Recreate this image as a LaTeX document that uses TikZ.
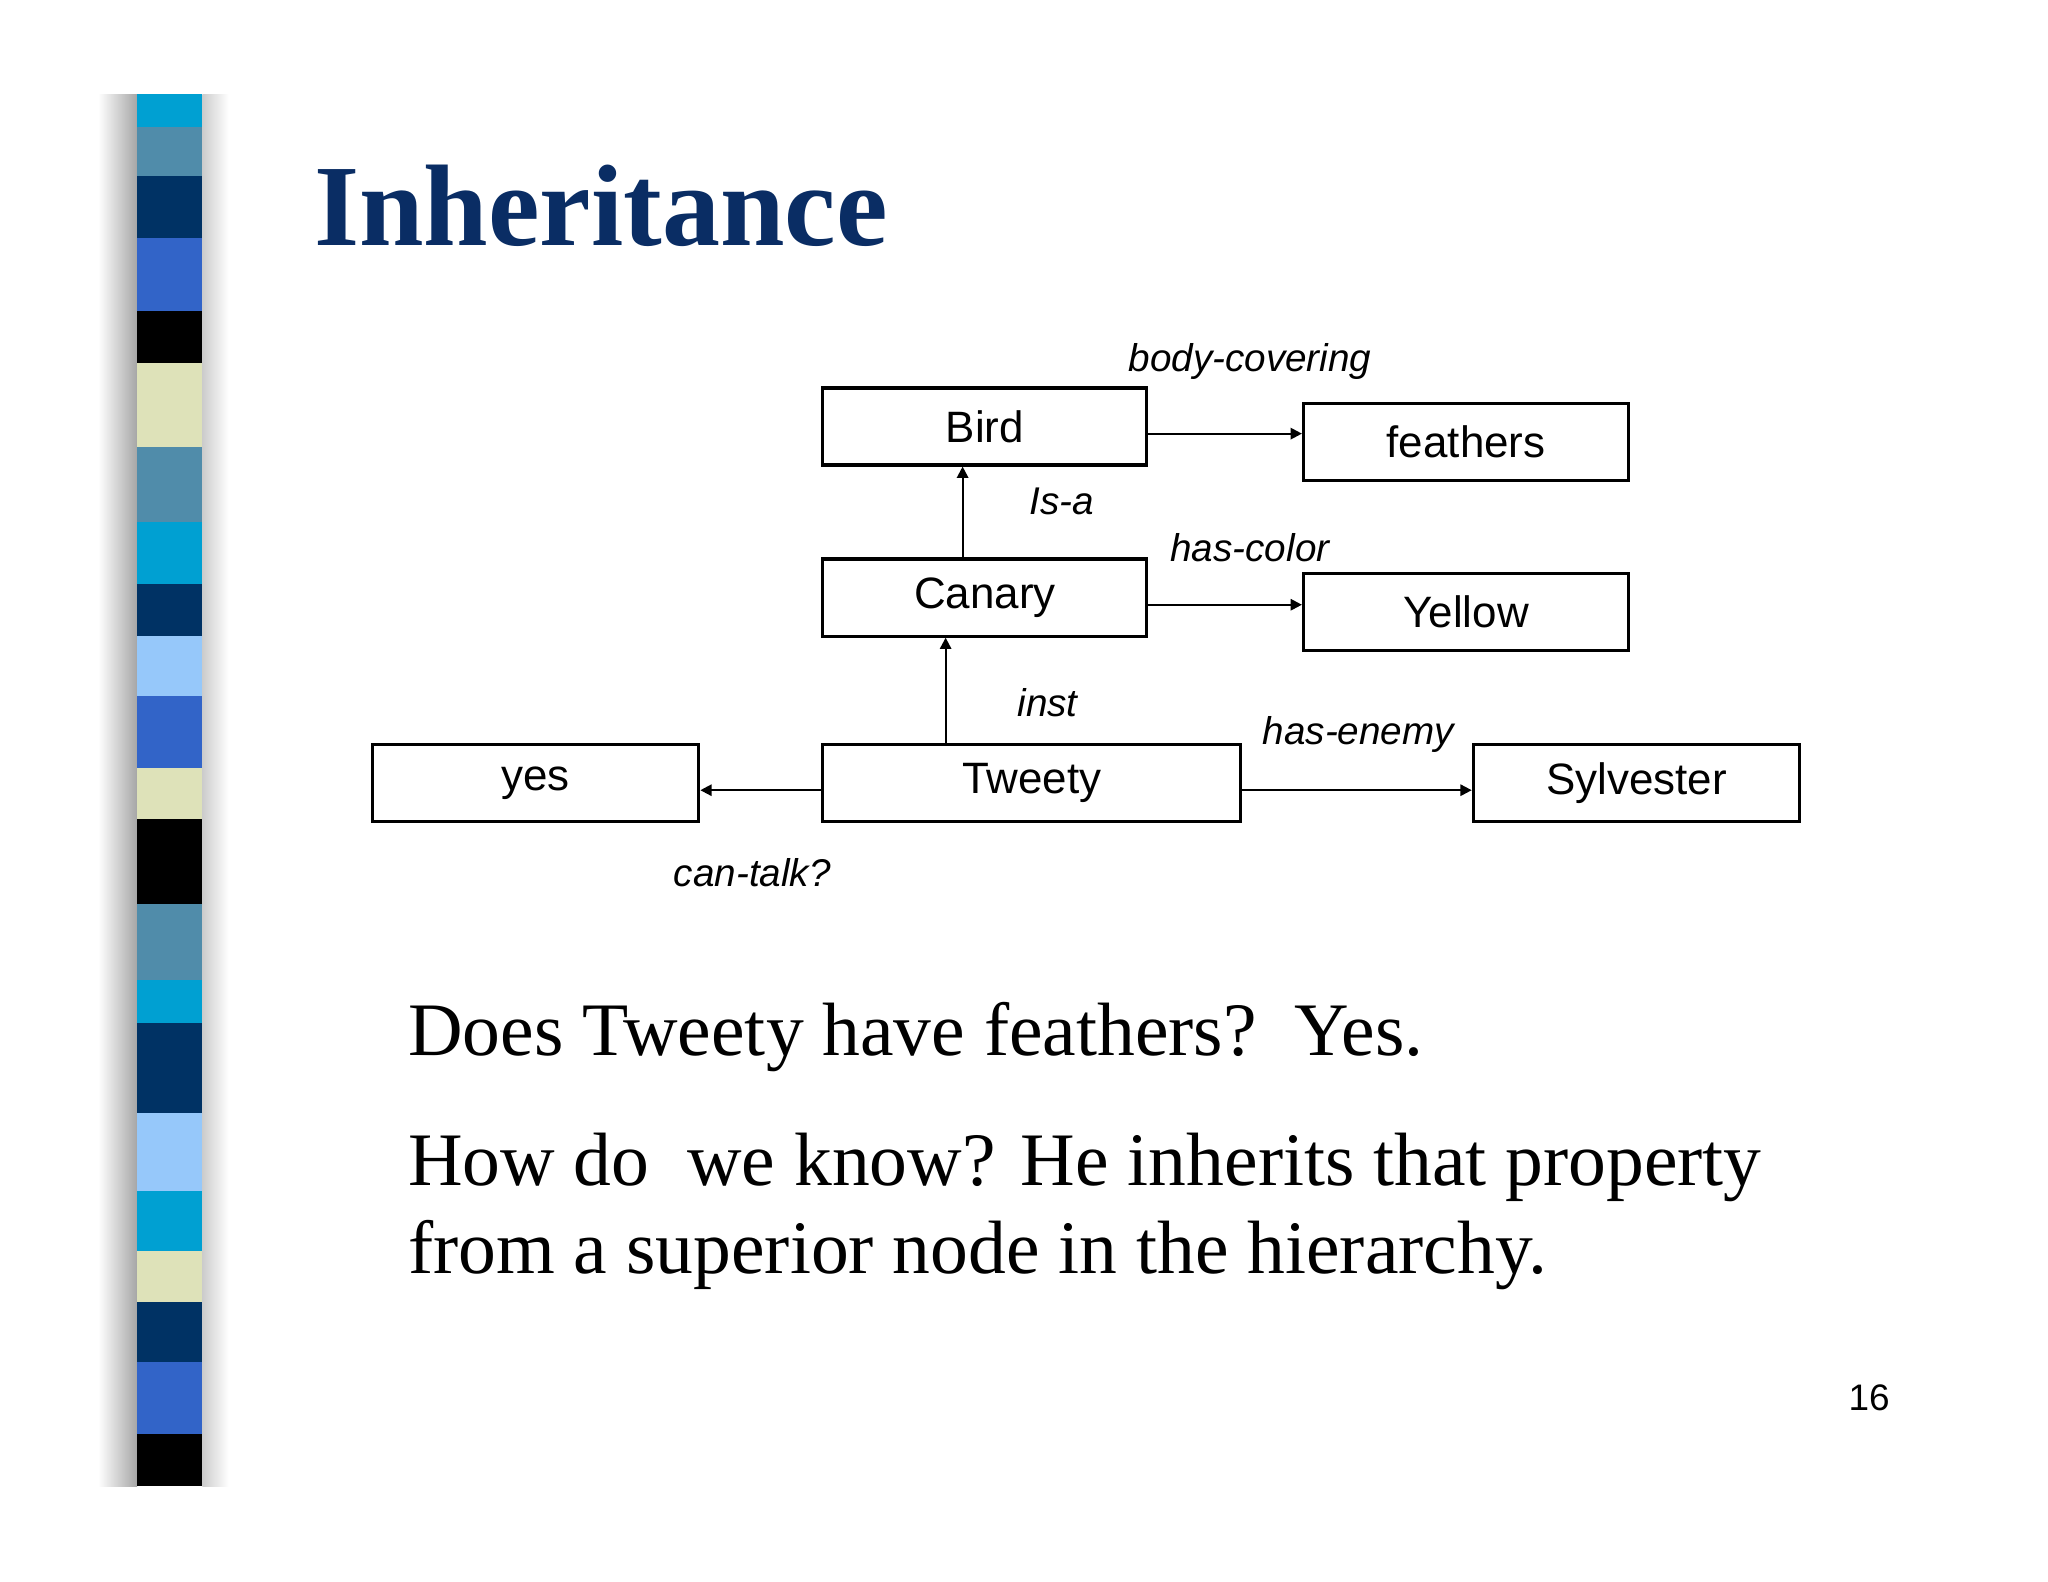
\documentclass[tikz,border=0pt]{standalone}
\usepackage{fontspec}
\setmainfont{Liberation Serif}
\setsansfont{Liberation Sans}
\usetikzlibrary{arrows.meta}
\definecolor{cyanS}{RGB}{0,160,210}
\definecolor{steelS}{RGB}{80,140,170}
\definecolor{navyS}{RGB}{0,50,100}
\definecolor{royalS}{RGB}{50,100,200}
\definecolor{creamS}{RGB}{222,226,185}
\definecolor{lightS}{RGB}{150,200,250}
\definecolor{titleC}{RGB}{10,45,100}
\tikzset{
  box/.style={draw, line width=0.9pt, inner sep=0pt, font=\sffamily\fontsize{12.5}{14}\selectfont},
  lbl/.style={font=\sffamily\itshape\fontsize{11}{13}\selectfont, inner sep=0pt},
  arr/.style={-{Triangle[length=3.2pt,width=3.2pt]}, line width=0.6pt},
  body/.style={anchor=base west, font=\fontsize{21.5}{26}\selectfont, inner sep=0pt}
}
\begin{document}
\begin{tikzpicture}[x=0.01306cm,y=-0.01306cm]
\useasboundingbox[fill=white] (0,0) rectangle (1568,1211);
% shadow
\shade[left color=white, right color=gray!70] (75,72) rectangle (105,1138);
\shade[left color=gray!40, right color=white] (155,72) rectangle (175,1138);
% stripes
\foreach \a/\b/\c in {72/97/cyanS,97/135/steelS,135/182/navyS,182/238/royalS,238/278/black,278/342/creamS,342/400/steelS,400/447/cyanS,447/487/navyS,487/533/lightS,533/588/royalS,588/627/creamS,627/692/black,692/750/steelS,750/783/cyanS,783/852/navyS,852/912/lightS,912/958/cyanS,958/997/creamS,997/1043/navyS,1043/1098/royalS,1098/1138/black}
  \fill[\c] (105,\a) rectangle (155,\b);
% title
\node[anchor=base west, inner sep=0pt, text=titleC, font=\bfseries\fontsize{33}{38}\selectfont] (title) at (240,188) {Inheritance};
% boxes
\node[box, minimum width=248*0.01306cm, minimum height=59*0.01306cm] (bird) at (754,326.5) {Bird};
\node[box, minimum width=249*0.01306cm, minimum height=59*0.01306cm] (feathers) at (1122.5,338.5) {feathers};
\node[box, minimum width=248*0.01306cm, minimum height=59*0.01306cm] (canary) at (754,457.5) {Canary};
\node[box, minimum width=249*0.01306cm, minimum height=59*0.01306cm] (yellow) at (1122.5,468.5) {Yellow};
\node[box, minimum width=320*0.01306cm, minimum height=59*0.01306cm] (tweety) at (790,599.5) {Tweety};
\node[box, minimum width=250*0.01306cm, minimum height=59*0.01306cm] (yes) at (410,599.5) {yes};
\node[box, minimum width=250*0.01306cm, minimum height=59*0.01306cm] (sylv) at (1253,599.5) {Sylvester};
% arrows
\draw[arr] (bird.east |- 0,332) -- (feathers.west |- 0,332);
\draw[arr] (canary.east |- 0,463) -- (yellow.west |- 0,463);
\draw[arr] (tweety.east |- 0,605) -- (sylv.west |- 0,605);
\draw[arr] (tweety.west |- 0,605) -- (yes.east |- 0,605);
\draw[arr] (canary.north -| 737,0) -- (bird.south -| 737,0);
\draw[arr] (tweety.north -| 724,0) -- (canary.south -| 724,0);
% labels
\node[lbl] (l1) at (957,277) {body-covering};
\node[lbl] (l2) at (813,384) {Is-a};
\node[lbl] (l3) at (957,419) {has-color};
\node[lbl] (l4) at (802,538) {inst};
\node[lbl] (l5) at (1040,562) {has-enemy};
\node[lbl] (l6) at (576,668) {can-talk?};
% body text
\node[body] (t1) at (312,808) {Does Tweety have feathers?\ \ Yes.};
\node[body] (t2) at (312,908) {How do\ \ we know? He inherits that property};
\node[body] (t3) at (312,975) {from a superior node in the hierarchy.};
\node[font=\sffamily\fontsize{10.5}{12}\selectfont, inner sep=0pt] (pg) at (1431,1070) {16};
\end{tikzpicture}
\end{document}
